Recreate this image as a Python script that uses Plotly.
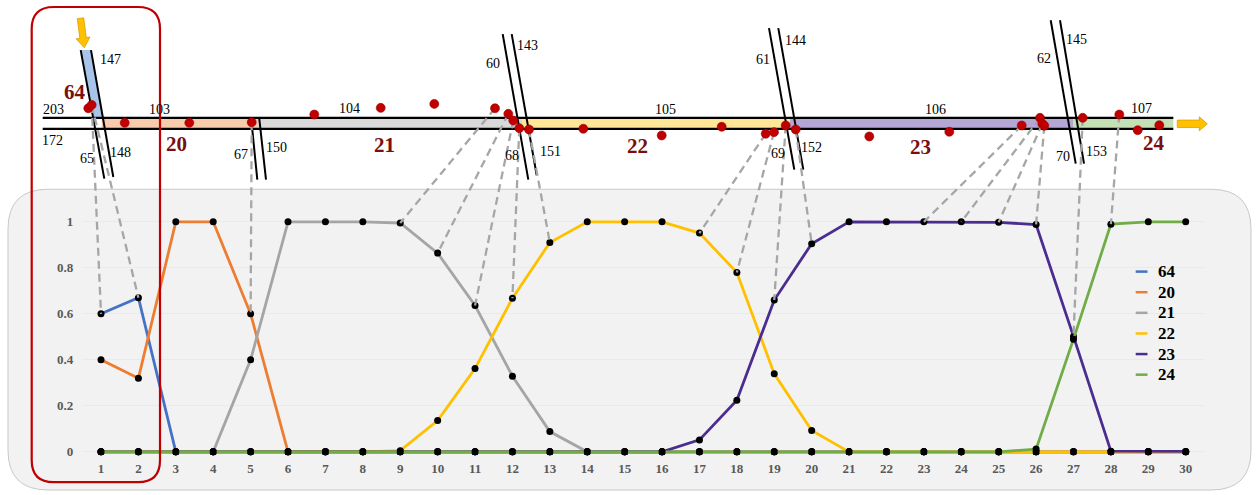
import math
import plotly.graph_objects as go

W, H = 1257, 495

# ---------------- chart data ----------------
x_vals = list(range(1, 31))
series_names = ["64", "20", "21", "22", "23", "24"]
series_colors = ["#4472C4", "#ED7D31", "#A5A5A5", "#FFC000", "#4B2D8F", "#70AD47"]

s64 = [0.60, 0.67, 0, 0, 0, 0, 0, 0, 0, 0, 0, 0, 0, 0, 0,
       0, 0, 0, 0, 0, 0, 0, 0, 0, 0, 0, 0, 0, 0, 0]
s20 = [0.40, 0.32, 1, 1, 0.60, 0, 0, 0, 0, 0, 0, 0, 0, 0, 0,
       0, 0, 0, 0, 0, 0, 0, 0, 0, 0, 0, 0, 0, 0, 0]
s21 = [0, 0, 0, 0, 0.40, 1, 1, 1, 0.995, 0.864, 0.636, 0.329, 0.088, 0, 0,
       0, 0, 0, 0, 0, 0, 0, 0, 0, 0, 0, 0, 0, 0, 0]
s22 = [0, 0, 0, 0, 0, 0, 0, 0, 0.005, 0.136, 0.362, 0.668, 0.91, 1, 1,
       1, 0.951, 0.78, 0.339, 0.093, 0, 0, 0, 0, 0, 0, 0, 0, 0, 0]
s23 = [0, 0, 0, 0, 0, 0, 0, 0, 0, 0, 0, 0, 0, 0, 0,
       0, 0.052, 0.224, 0.66, 0.905, 1, 1, 1, 1, 0.998, 0.988, 0.502, 0.003, 0.002, 0.002]
s24 = [0, 0, 0, 0, 0, 0, 0, 0, 0, 0, 0, 0, 0, 0, 0,
       0, 0, 0, 0, 0, 0, 0, 0, 0, 0, 0.012, 0.49, 0.99, 1, 1]
series_values = [s64, s20, s21, s22, s23, s24]

y_tickvals = [0, 0.2, 0.4, 0.6, 0.8, 1]
y_ticktext = ["0", "0.2", "0.4", "0.6", "0.8", "1"]

# ---------------- schematic (road map) data, pixel positions ----------------
gps_x = [88.3, 91.7, 124.7, 189.3, 251.7, 314.3, 380.7, 434.3, 495, 508.3,
         513.3, 519.3, 529, 583.3, 661.7, 721.7, 765.7, 774, 785.7, 795.7,
         869.3, 949.3, 1021.7, 1040, 1042.3, 1044.3, 1082.7, 1119.3, 1137.7, 1159.3]
gps_y = [107.7, 104.3, 122.3, 122.3, 121.7, 114, 107.3, 103.3, 107.7, 113.3,
         120, 127.7, 129, 128.3, 135, 126.3, 133.3, 131.7, 125, 129,
         136, 131.3, 125, 117.3, 123.3, 125.3, 117.3, 114, 129.7, 124.7]
# (gps index, time step, series index) -> dashed matching links
link_gps = [1, 1, 4, 8, 9, 10, 11, 12, 16, 17, 18, 19, 22, 23, 24, 25, 26, 27]
link_step = [1, 2, 5, 9, 10, 11, 12, 13, 17, 18, 19, 20, 23, 24, 25, 26, 27, 28]
link_series = [0, 0, 1, 2, 2, 2, 3, 3, 3, 3, 4, 4, 4, 4, 4, 4, 4, 5]

road_x0, road_x1 = 42.7, 1173.3
road_top, road_bot = 117.3, 128.3
band_starts = [101.7, 258.0, 522.0, 790.0, 1073.0]
band_ends = [258.0, 522.0, 790.0, 1073.0, 1173.3]
band_colors = ["#F8CBAD", "#D9D9D9", "#FFE699", "#B4A7D6", "#C5E0B4"]

# slanted link roads: pairs of lines (x0, y0, x1, y1)
slant_lines = [
    (80.7, 49.3, 104.3, 178.3), (91.0, 49.3, 113.3, 176.7),
    (251.7, 123.3, 257.3, 179.3), (259.3, 118.3, 266.0, 179.3),
    (502.7, 33.3, 528.3, 179.3), (511.7, 33.3, 536.7, 175.0),
    (769.0, 27.3, 794.3, 169.3), (778.3, 27.3, 803.3, 169.3),
    (1050.7, 19.3, 1075.7, 163.3), (1060.0, 19.3, 1084.0, 163.3),
]
road_labels = ["203", "172", "147", "65", "148", "103", "67", "150", "104",
               "60", "143", "68", "151", "105", "61", "144", "69", "152",
               "106", "62", "145", "70", "153", "107"]
road_label_x = [53, 52, 110.5, 87, 120.5, 159.3, 240.7, 276.7, 349,
                492.7, 527.3, 511.7, 550, 665.7, 763.3, 795, 778.3, 811.7,
                935, 1044, 1076, 1062.7, 1096, 1141.7]
road_label_y = [109, 139.7, 58.5, 158, 152.5, 109, 154, 147.3, 108.3,
                62.7, 44.3, 155, 150.7, 109, 58.3, 39.3, 153.3, 146.7,
                109, 57.3, 38.3, 156, 150.7, 108.3]
seg_labels = ["64", "20", "21", "22", "23", "24"]
seg_label_x = [74.5, 176.7, 384, 637.3, 920, 1153.5]
seg_label_y = [91, 144, 145, 146, 146.7, 143]

# ---------------- geometry helpers ----------------
XD0, XD1 = 82.3, 1204.4          # chart x-domain in pixels
YD_TOP, YD_BOT = 214.8, 459.6    # chart y-domain in pixels
XR = (0.5, 30.5)
YR = (-0.03, 1.03)


def chart_px(xv, yv):
    px = XD0 + (xv - XR[0]) * (XD1 - XD0) / (XR[1] - XR[0])
    py = YD_BOT - (yv - YR[0]) * (YD_BOT - YD_TOP) / (YR[1] - YR[0])
    return px, py


def P(x, y):
    return x / W, 1 - y / H


def path_from(points, close=True):
    s = ""
    for i, (x, y) in enumerate(points):
        px, py = P(x, y)
        s += ("M" if i == 0 else "L") + f"{px:.5f},{py:.5f} "
    return s + ("Z" if close else "")


def rounded_rect(x0, y0, x1, y1, r):
    def p(x, y):
        a, b = P(x, y)
        return f"{a:.5f},{b:.5f}"
    return (f"M{p(x0 + r, y0)} L{p(x1 - r, y0)} Q{p(x1, y0)} {p(x1, y0 + r)} "
            f"L{p(x1, y1 - r)} Q{p(x1, y1)} {p(x1 - r, y1)} "
            f"L{p(x0 + r, y1)} Q{p(x0, y1)} {p(x0, y1 - r)} "
            f"L{p(x0, y0 + r)} Q{p(x0, y0)} {p(x0 + r, y0)} Z")


def arrow_pts(tx, ty, hx, hy, shaft, head_w, head_l):
    L = math.hypot(hx - tx, hy - ty)
    ux, uy = (hx - tx) / L, (hy - ty) / L
    nx, ny = -uy, ux
    bx, by = hx - ux * head_l, hy - uy * head_l
    return [
        (tx + nx * shaft / 2, ty + ny * shaft / 2),
        (bx + nx * shaft / 2, by + ny * shaft / 2),
        (bx + nx * head_w / 2, by + ny * head_w / 2),
        (hx, hy),
        (bx - nx * head_w / 2, by - ny * head_w / 2),
        (bx - nx * shaft / 2, by - ny * shaft / 2),
        (tx - nx * shaft / 2, ty - ny * shaft / 2),
    ]


def line_paper(x0, y0, x1, y1, color="black", width=2, layer="below", dash=None):
    a, b = P(x0, y0)
    c, d = P(x1, y1)
    ln = dict(color=color, width=width)
    if dash:
        ln["dash"] = dash
    return dict(type="line", xref="paper", yref="paper", x0=a, y0=b, x1=c, y1=d,
                line=ln, layer=layer)


shapes = []
# grey rounded panel
shapes.append(dict(type="path", xref="paper", yref="paper",
                   path=rounded_rect(8, 189, 1251, 491, 40),
                   fillcolor="#F2F2F2", line=dict(color="#C8C8C8", width=1),
                   layer="below"))
# road colour bands
for xs, xe, col in zip(band_starts, band_ends, band_colors):
    shapes.append(dict(type="path", xref="paper", yref="paper",
                       path=path_from([(xs, road_top), (xe, road_top), (xe, road_bot), (xs, road_bot)]),
                       fillcolor=col, line=dict(width=0), layer="below"))
# blue fill on first slanted road
x_l = 80.7 + (104.3 - 80.7) * (road_top - 49.3) / (178.3 - 49.3)
x_r = 91.0 + (113.3 - 91.0) * (road_top - 49.3) / (176.7 - 49.3)
shapes.append(dict(type="path", xref="paper", yref="paper",
                   path=path_from([(80.7, 49.3), (91.0, 49.3), (x_r, road_top), (x_l, road_top)]),
                   fillcolor="#A9C4EB", line=dict(width=0), layer="below"))
# road edges
shapes.append(line_paper(road_x0, road_top, road_x1, road_top, width=2.2))
shapes.append(line_paper(road_x0, road_bot, road_x1, road_bot, width=2.2))
for (a, b, c, d) in slant_lines:
    shapes.append(line_paper(a, b, c, d, width=2))
# arrows
for pts in [arrow_pts(80.5, 17.3, 84.3, 47.0, 6.5, 14, 10),
            arrow_pts(1177.3, 123.3, 1207.3, 123.3, 7.5, 14, 8)]:
    shapes.append(dict(type="path", xref="paper", yref="paper", path=path_from(pts),
                       fillcolor="#FFC000", line=dict(color="#D8A000", width=0.8),
                       layer="below"))
# red highlight box
shapes.append(dict(type="path", xref="paper", yref="paper",
                   path=rounded_rect(31.7, 6, 160, 483, 22),
                   fillcolor="rgba(0,0,0,0)", line=dict(color="#C00000", width=2.2),
                   layer="above"))

# legend (manual)
annotations = []
for i, (nm, col) in enumerate(zip(series_names, series_colors)):
    yy = 271.7 + i * 20.7
    shapes.append(line_paper(1135.7, yy, 1147.5, yy, color=col, width=2.5, layer="above"))
    a, b = P(1156, yy)
    annotations.append(dict(x=a, y=b, xref="paper", yref="paper", text=nm, showarrow=False,
                            xanchor="left", yanchor="middle",
                            font=dict(family="Liberation Serif", size=17, color="black",
                                      weight="bold")))

for t, xx, yy in zip(road_labels, road_label_x, road_label_y):
    a, b = P(xx, yy)
    annotations.append(dict(x=a, y=b, xref="paper", yref="paper", text=t, showarrow=False,
                            xanchor="center", yanchor="middle",
                            font=dict(family="Liberation Serif", size=14, color="black")))
for t, xx, yy in zip(seg_labels, seg_label_x, seg_label_y):
    a, b = P(xx, yy)
    annotations.append(dict(x=a, y=b, xref="paper", yref="paper", text=t, showarrow=False,
                            xanchor="center", yanchor="middle",
                            font=dict(family="Liberation Serif", size=21, color="#7A0F0F",
                                      weight="bold")))

fig = go.Figure()

# chart series
for nm, col, vals in zip(series_names, series_colors, series_values):
    fig.add_trace(go.Scatter(x=x_vals, y=vals, name=nm, mode="lines+markers",
                             line=dict(color=col, width=2.8),
                             marker=dict(color="black", size=7),
                             cliponaxis=False, showlegend=False,
                             xaxis="x", yaxis="y"))

# dashed matching links (schematic pixel space)
lx, ly = [], []
for g, st, si in zip(link_gps, link_step, link_series):
    px, py = chart_px(st, series_values[si][st - 1])
    lx += [gps_x[g], px, None]
    ly += [gps_y[g], py, None]
fig.add_trace(go.Scatter(x=lx, y=ly, mode="lines",
                         line=dict(color="#A6A6A6", width=2.3, dash="8px,5px"),
                         showlegend=False, hoverinfo="skip", xaxis="x2", yaxis="y2"))
# GPS points
fig.add_trace(go.Scatter(x=gps_x, y=gps_y, mode="markers",
                         marker=dict(color="#C00000", size=9,
                                     line=dict(color="#9A0000", width=0.6)),
                         showlegend=False, xaxis="x2", yaxis="y2"))

tick_font = dict(family="Liberation Serif", size=13, color="#595959", weight="bold")
fig.update_layout(
    width=W, height=H,
    margin=dict(l=0, r=0, t=0, b=0),
    paper_bgcolor="white", plot_bgcolor="rgba(0,0,0,0)",
    showlegend=False,
    xaxis=dict(domain=[XD0 / W, XD1 / W], range=list(XR), tickvals=x_vals,
               ticks="", showgrid=False, zeroline=False, showline=False,
               tickfont=tick_font, fixedrange=True),
    yaxis=dict(domain=[1 - YD_BOT / H, 1 - YD_TOP / H], range=list(YR),
               tickvals=y_tickvals, ticktext=y_ticktext, ticks="",
               ticklabelstandoff=8,
               showgrid=True, gridcolor="#EAEAEA", gridwidth=1,
               zeroline=False, showline=False, tickfont=tick_font, fixedrange=True),
    xaxis2=dict(domain=[0, 1], range=[0, W], visible=False, anchor="y2", fixedrange=True),
    yaxis2=dict(domain=[0, 1], range=[H, 0], visible=False, anchor="x2", fixedrange=True),
    shapes=shapes,
    annotations=annotations,
)

fig.write_html("out.html",
               config={"displayModeBar": False},
               post_script="document.body.style.margin='0px';document.body.style.overflow='hidden';")
